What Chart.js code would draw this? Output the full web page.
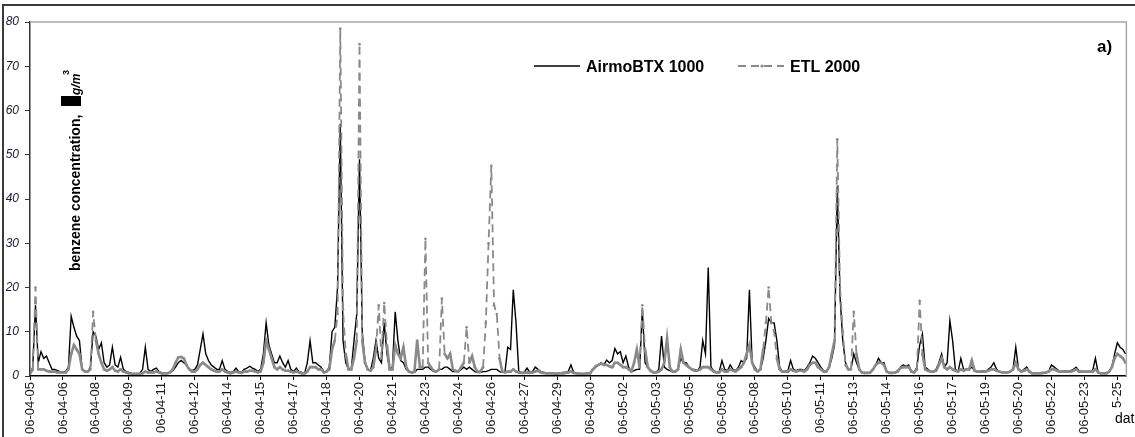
<!DOCTYPE html>
<html><head><meta charset="utf-8">
<script src="https://cdn.jsdelivr.net/npm/chart.js@4/dist/chart.umd.min.js"></script>
<style>html,body{margin:0;padding:0;background:#fff;overflow:hidden}canvas{display:block}</style>
</head><body>
<canvas id="c" width="1135" height="437"></canvas>
<script>
const tickLabels = ['06-04-05','06-04-06','06-04-08','06-04-09','06-04-11','06-04-12','06-04-14','06-04-15','06-04-17','06-04-18','06-04-20','06-04-21','06-04-23','06-04-24','06-04-26','06-04-27','06-04-29','06-04-30','06-05-02','06-05-03','06-05-05','06-05-06','06-05-08','06-05-10','06-05-11','06-05-13','06-05-14','06-05-16','06-05-17','06-05-19','06-05-20','06-05-22','06-05-23','5-25'];
const samplesPerTick = 12;
const lastSample = 399.28;
const yTicks = [0,10,20,30,40,50,60,70,80];
const seriesNames = ['AirmoBTX 1000','ETL 2000'];
const airmo = [
0.5,2,16,3,5.5,4,4.5,3,1.5,1.5,1.2,1,
1,1,2,13.5,11,9,8,1.5,1,1,2,10,
9,6,7.5,3,2,2.5,6.5,2.5,2,4.2,1.5,1,
0.8,0.6,0.5,0.5,0.6,1.5,6.5,1.5,1,1.5,1.8,1,
0.7,0.6,0.6,0.8,1.2,2,3,3.5,3,2.5,1.5,1.2,
1.5,2.5,6,9.5,5,3.5,2.5,2,1.5,1.5,3.5,1.5,
1,0.8,1,1.8,1,0.8,1.5,1.8,2.2,1.8,1.5,1,
1.5,5,12,7,5,3,3,4.5,3,2,3.5,1.5,
1,1.8,1,0.8,0.6,3,8,3,3,2.5,2,1,
1,2,10,11,20,57,8,3,1.5,1.5,8,14,
49,10,3,1.5,1.2,4,8,4,3,12,5,1.5,
2,14.5,8,3.5,3,1.5,1,0.8,0.8,1.5,1.5,1.5,
2,2,1.5,1,1,1.5,1.5,2,2,1.5,1,1,
1,1.5,2,1.5,2,1.5,1,0.8,0.8,1,1,1.2,
1.5,1.5,1.5,1,0.8,1,6.5,6,19.5,12,1,0.8,
0.8,1.8,0.8,1,2,1.5,1,0.8,0.7,0.7,0.6,0.6,
0.6,0.7,0.8,0.8,1,2.5,0.8,0.7,0.6,0.5,0.5,0.6,
0.6,1.5,2,2.5,3,2.5,3.6,3,3.5,6.2,5,5.5,
3,4.5,2,1,1.2,1.5,1.5,15,3,2,1.2,0.8,
0.8,1.5,9,2,1.5,1.2,1,1,1.5,4,3,3,
2,1.5,1.5,1.2,2,8,5,24.5,2,1.2,0.8,1,
3.5,1.5,1.2,2.5,1.5,1.2,2,3.5,3,4,19.5,3,
2,1,1.5,4,8,13,12,12,8,2,1,1,
1.2,3.5,1.5,1.2,1.5,1.5,1.2,2,3,4.5,4,3,
2,1.2,1,2,4,7,43,18,8,3,1.5,1.5,
5,3,1.5,0.8,0.7,0.7,0.8,1.5,2.5,4,3,3,
1,0.7,0.7,0.8,1.2,2,2.5,2.2,2.5,1,0.8,2,
7,9.5,2,1.5,1,1,1.5,3,5,2,3,12.5,
8,1.5,1,4,1.5,1.5,1.5,2,1.2,1,1,1.2,
1,1.5,2,3,1.5,1,0.8,0.8,0.8,1,1.5,6.5,
1.5,1,1.5,2,1,0.6,0.6,0.6,0.6,0.7,0.8,1,
2.5,2,1.5,1,1,1.2,1,1.2,1.5,2,1.2,1,
1,1,1,1.2,4,0.8,0.6,0.6,0.6,1,2,5,
7.5,6.5,6,5];
const etl = [
0.5,1.5,20,1.5,1.5,1.5,1.2,1,1,1,0.8,0.8,
0.8,0.8,1.5,5,7,6,5,1.5,1,1,1.5,14.5,
8,5,3,1.5,1.2,1.5,2,1.2,1,1.5,1,0.8,
0.6,0.5,0.5,0.5,0.5,0.6,1,0.8,0.8,0.8,1,0.8,
0.6,0.6,0.6,0.8,1.5,3,4.2,4.3,4,2.5,1.5,1,
1,1.5,2.5,3,2.5,2,1.5,1.2,1,1,1.5,1,
0.8,0.6,0.8,1,0.8,0.7,1,1,1.2,1.2,1,0.8,
1,3,8,6,4,2,1.5,2,1.5,1.2,1.2,1,
0.8,1,0.8,0.6,0.6,1,2,2,2,1.5,1.5,0.8,
1,1.5,6,8,14,78.5,15,5,1.5,1.5,4,8,
75,8,3,1.5,1.2,2,6,16,4,16.5,7,1.5,
1.5,7,5,4,6.5,2,1,0.8,1,8,2,2,
31,3,2,1.2,1,1.5,17.5,5,4,5,1.5,1.2,
1,2,3,11,3,4.5,2,1,1,2,12,30,
47.5,16,14,4,1,0.8,1,1,1.5,1,0.8,0.7,
0.7,0.8,0.7,0.8,1,1.2,0.8,0.7,0.6,0.6,0.6,0.5,
0.5,0.6,0.6,0.7,0.8,1,0.7,0.6,0.5,0.5,0.5,0.6,
0.6,1.5,2.2,2.5,2.8,2.5,2.5,2.2,2,3,3,2.5,
2,2,1.5,1,3,6,2,16,6,2,1.2,0.8,
0.8,1,1.5,3,8.5,2,1,1,1.5,6,3,2.5,
2,1.5,1.2,1.2,1.5,2,2,2,1.5,1,0.8,0.8,
1.5,1,1,1.5,1.2,1,1.5,2,3,5,7,3,
1.5,1,1.5,6,12,20,12,10,4,1.5,1,1,
1,1.5,1.2,1,1.2,1.2,1,1.5,2.5,3,3,2,
1.5,1,1,2,5,8,53.5,20,10,2.5,1.5,1.5,
14.5,5,1.5,0.8,0.7,0.7,0.8,1.5,2.5,3,3,2.5,
1,0.7,0.7,0.8,1,1.8,2,2,2,1,0.8,1.5,
17,5,1.5,1.2,1,1,1.2,2.5,4,2,1.5,2,
1.5,1.2,1,1.5,1.2,1.5,1.5,3.5,1.2,1,1,1,
1,1.2,1.5,1.5,1.2,1,0.8,0.8,0.8,1,1.5,3,
1.5,1,1.2,1.5,1,0.6,0.6,0.6,0.6,0.7,0.8,1,
1.5,1.5,1.2,1,1,1,1,1,1.2,1.5,1,1,
1,1,1,1,1.5,0.8,0.6,0.6,0.6,1,2,4,
5,4.5,4,3];

const FONT = "'Liberation Sans', Arial, sans-serif";
const AIR_COLOR = '#000000';
const ETL_COLOR = '#8a8a8a';
const ETL_DASH = [8,5];
const DASH_ABOVE = 9;

const decor = {
  id: 'decor',
  beforeDraw(chart) {
    const ctx = chart.ctx;
    ctx.save();
    ctx.fillStyle = '#fff';
    ctx.fillRect(0,0,chart.width,chart.height);
    ctx.restore();
  },
  afterDraw(chart) {
    const ctx = chart.ctx, a = chart.chartArea;
    ctx.save();
    ctx.strokeStyle = '#3a3a3a'; ctx.lineWidth = 2;
    ctx.beginPath(); ctx.moveTo(3, 437); ctx.lineTo(3, 5); ctx.lineTo(1135, 5); ctx.stroke();
    ctx.strokeStyle = '#a8a8a8'; ctx.lineWidth = 1.5;
    ctx.beginPath(); ctx.moveTo(a.left, a.top); ctx.lineTo(a.right, a.top); ctx.lineTo(a.right, a.bottom); ctx.stroke();
    // legend
    ctx.fillStyle = '#000';
    ctx.font = 'bold 16px ' + FONT;
    ctx.textBaseline = 'alphabetic';
    ctx.strokeStyle = AIR_COLOR; ctx.lineWidth = 1.5; ctx.setLineDash([]);
    ctx.beginPath(); ctx.moveTo(534, 66); ctx.lineTo(580, 66); ctx.stroke();
    ctx.fillText(seriesNames[0], 586, 72);
    ctx.strokeStyle = ETL_COLOR; ctx.lineWidth = 1.8; ctx.setLineDash(ETL_DASH);
    ctx.beginPath(); ctx.moveTo(738, 66); ctx.lineTo(784, 66); ctx.stroke();
    ctx.setLineDash([]);
    ctx.fillStyle = ETL_COLOR;
    ctx.beginPath(); ctx.arc(762, 66, 1.6, 0, Math.PI*2); ctx.fill();
    ctx.fillStyle = '#000';
    ctx.fillText(seriesNames[1], 790, 72);
    ctx.font = 'bold 17px ' + FONT;
    ctx.fillText('a)', 1097, 52);
    ctx.font = '14px ' + FONT;
    ctx.fillText('date', 1115, 423);
    // y title
    ctx.translate(80, 271);
    ctx.rotate(-Math.PI/2);
    ctx.font = 'bold 14px ' + FONT;
    ctx.fillText('benzene concentration,', 0, 0);
    ctx.fillRect(165, -19, 10, 20);
    ctx.font = 'italic bold 12px ' + FONT;
    ctx.fillText('g/m', 176, 0);
    ctx.font = 'bold 9px ' + FONT;
    ctx.fillText('3', 196, -11);
    ctx.restore();
  }
};

const toPts = arr => arr.map((v,i)=>({x:i, y:v}));
const tall = c => Math.max(c.p0.parsed.y, c.p1.parsed.y) > DASH_ABOVE;

new Chart(document.getElementById('c'), {
  type: 'line',
  data: {
    datasets: [
      { label: seriesNames[0], data: toPts(airmo), borderColor: AIR_COLOR, borderWidth: 1.4,
        pointRadius: 0, tension: 0, order: 2, fill: false },
      { label: seriesNames[1], data: toPts(etl), borderColor: ETL_COLOR, borderWidth: 2.6,
        borderDash: [], pointRadius: 1.3, pointBackgroundColor: ETL_COLOR,
        pointBorderColor: ETL_COLOR, pointBorderWidth: 0, tension: 0, order: 1, fill: false,
        segment: {
          borderDash: c => (tall(c) ? ETL_DASH : []),
          borderWidth: c => (tall(c) ? 1.8 : 2.6)
        } }
    ]
  },
  options: {
    responsive: false, animation: false, devicePixelRatio: 1,
    layout: { padding: { left: 0, top: 22, right: 2, bottom: 0 } },
    plugins: { legend: { display: false }, tooltip: { enabled: false } },
    scales: {
      x: {
        type: 'linear', min: 0, max: lastSample,
        afterBuildTicks: s => { s.ticks = tickLabels.map((l,k)=>({value: k*samplesPerTick})); },
        afterFit: s => { s.height = 61; },
        ticks: { autoSkip: false, maxRotation: 90, minRotation: 90, padding: 2,
          color: '#1a1a1a', font: { family: FONT, size: 13 },
          callback: v => tickLabels[Math.round(v / samplesPerTick)] },
        grid: { display: true, drawOnChartArea: false, drawTicks: true, tickLength: 4, color: '#000', lineWidth: 1 },
        border: { display: true, color: '#000', width: 1.5 }
      },
      y: {
        min: 0, max: 80,
        afterBuildTicks: s => { s.ticks = yTicks.map(v=>({value:v})); },
        afterFit: s => { s.width = 30; },
        ticks: { padding: 6, color: '#1a1a3a', font: { family: FONT, size: 12, style: 'italic' } },
        grid: { display: true, drawOnChartArea: false, drawTicks: true, tickLength: 5, color: '#333' },
        border: { display: true, color: '#333', width: 1.5 }
      }
    }
  },
  plugins: [decor]
});
</script>
</body></html>
